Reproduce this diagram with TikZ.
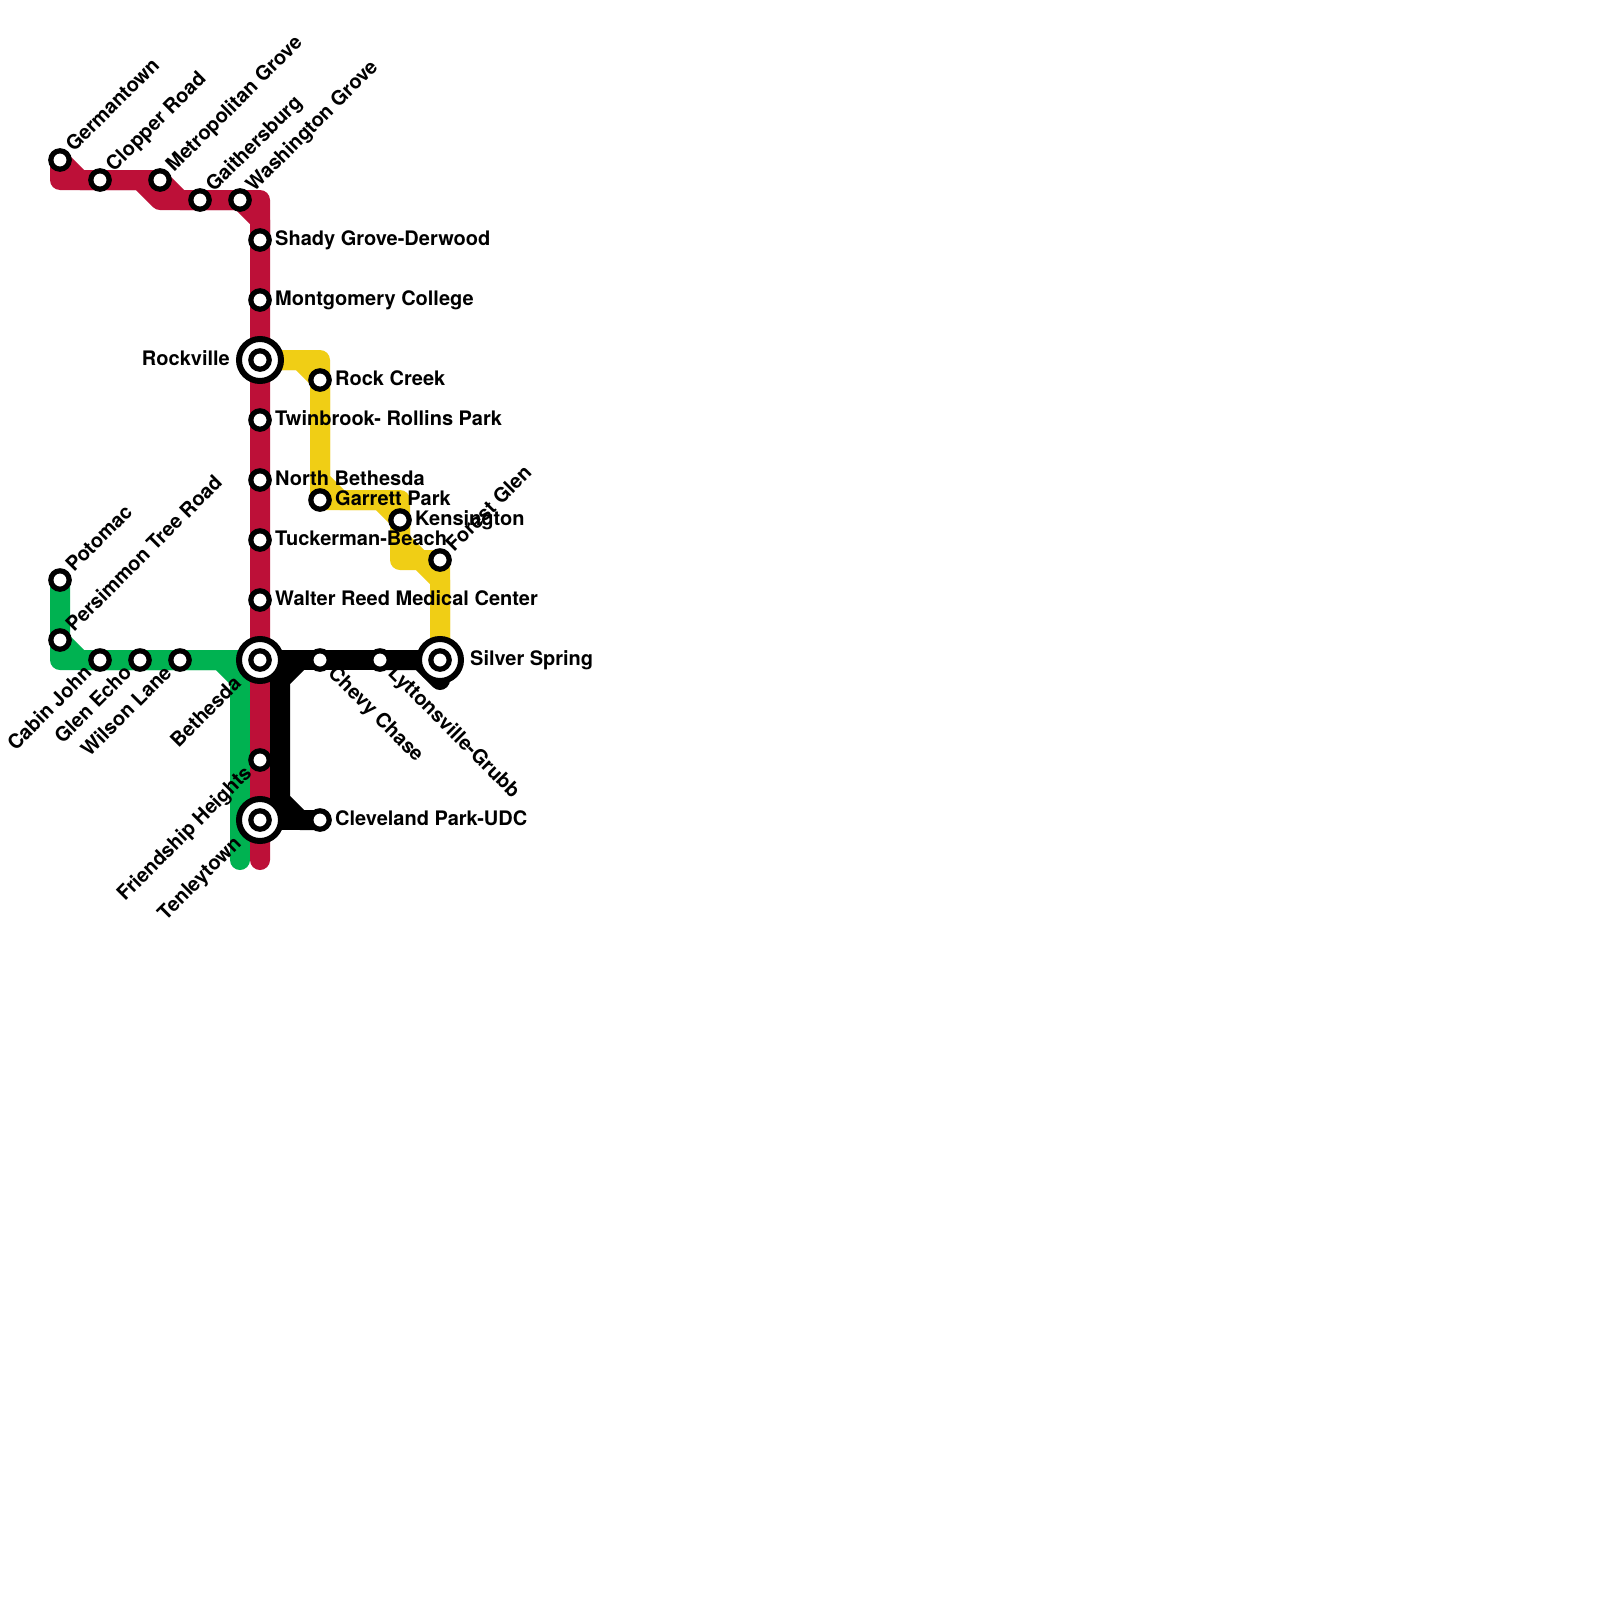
\documentclass[tikz,border=0pt]{standalone}
\usepackage{fontspec}
\setmainfont{TeX Gyre Heros}
\usetikzlibrary{backgrounds}
\definecolor{redline}{HTML}{BD1038}
\definecolor{greenline}{HTML}{00B251}
\definecolor{yellowline}{HTML}{F0CE15}
\tikzset{
  stn/.style={circle,draw=black,line width=5.2pt,fill=white,outer sep=0pt,minimum size=18.4pt,inner sep=0pt},
  xchg/.style={circle,draw=black,line width=6pt,fill=white,outer sep=0pt,minimum size=42pt,inner sep=0pt},
  metro/.style={line width=20pt,line join=round,line cap=round},
  lbl/.style={font=\bfseries\fontsize{20}{24}\selectfont,text=black,inner sep=0pt},
  lr/.style={lbl,anchor=base west},
  ll/.style={lbl,anchor=base east},
  lup/.style={lbl,anchor=base west,rotate=45},
  ldl/.style={lbl,anchor=base east,rotate=45},
  ldr/.style={lbl,anchor=base west,rotate=-45}
}
\begin{document}
\begin{tikzpicture}[x=1pt,y=-1pt]
\useasboundingbox (0,0) rectangle (1600,1600);
% stations
\node[stn] (germantown) at (60,160) {};
\node[stn] (clopper) at (100,180) {};
\node[stn] (metropolitan) at (160,180) {};
\node[stn] (gaithersburg) at (200,200) {};
\node[stn] (washington) at (240,200) {};
\node[stn] (shady) at (260,240) {};
\node[stn] (montgomery) at (260,300) {};
\node[xchg] (rockville) at (260,360) {};
\node[stn] (rockvillein) at (260,360) {};
\node[stn] (twinbrook) at (260,420) {};
\node[stn] (northb) at (260,480) {};
\node[stn] (tuckerman) at (260,540) {};
\node[stn] (walter) at (260,600) {};
\node[xchg] (bethesda) at (260,660) {};
\node[stn] (bethesdain) at (260,660) {};
\node[stn] (friendship) at (260,760) {};
\node[xchg] (tenley) at (260,820) {};
\node[stn] (tenleyin) at (260,820) {};
\node[stn] (potomac) at (60,580) {};
\node[stn] (persimmon) at (60,640) {};
\node[stn] (cabin) at (100,660) {};
\node[stn] (glen) at (140,660) {};
\node[stn] (wilson) at (180,660) {};
\node[stn] (rockcreek) at (320,380) {};
\node[stn] (garrett) at (320,500) {};
\node[stn] (kensington) at (400,520) {};
\node[stn] (forest) at (440,560) {};
\node[xchg] (silver) at (440,660) {};
\node[stn] (silverin) at (440,660) {};
\node[stn] (chevy) at (320,660) {};
\node[stn] (lytton) at (380,660) {};
\node[stn] (cleveland) at (320,820) {};
% bends and free ends
\coordinate (r1) at (60,180); \coordinate (r2) at (140,180); \coordinate (r3) at (160,200);
\coordinate (r4) at (260,220); \coordinate (r5) at (80,180); \coordinate (r6) at (180,200);
\coordinate (r7) at (260,200); \coordinate (redend) at (260,860);
\coordinate (g1) at (60,660); \coordinate (g2) at (220,660); \coordinate (g3) at (240,680);
\coordinate (g4) at (80,660); \coordinate (greenend) at (240,860);
\coordinate (y1) at (300,360); \coordinate (y2) at (320,360); \coordinate (y3) at (320,480);
\coordinate (y4) at (340,500); \coordinate (y5) at (400,500); \coordinate (y6) at (400,540);
\coordinate (y7) at (420,560); \coordinate (y8) at (380,500); \coordinate (y9) at (400,560);
\coordinate (y10) at (440,580);
\coordinate (k1) at (300,660); \coordinate (k2) at (280,680); \coordinate (k3) at (280,800);
\coordinate (k4) at (300,820); \coordinate (k5) at (420,660); \coordinate (k6) at (440,680);
% lines
\begin{scope}[on background layer]
\fill[white] (0,0) rectangle (1600,1600);
\draw[metro,greenline] (potomac.center) -- (persimmon.center) -- (g1) -- (cabin.center) -- (glen.center) -- (wilson.center) -- (g2) -- (g3) -- (greenend);
\draw[metro,greenline] (persimmon.center) -- (g4) -- (bethesda.center);
\draw[metro,redline] (germantown.center) -- (r1) -- (clopper.center) -- (r2) -- (r3) -- (gaithersburg.center) -- (washington.center) -- (r4) -- (shady.center);
\draw[metro,redline] (germantown.center) -- (r5) -- (metropolitan.center) -- (r6) -- (r7) -- (shady.center) -- (montgomery.center) -- (rockville.center) -- (twinbrook.center) -- (northb.center) -- (tuckerman.center) -- (walter.center) -- (bethesda.center) -- (friendship.center) -- (tenley.center) -- (redend);
\draw[metro,yellowline] (rockville.center) -- (y1) -- (rockcreek.center) -- (garrett.center) -- (y8) -- (kensington.center) -- (y9) -- (y7) -- (y10) -- (silver.center);
\draw[metro,yellowline] (rockville.center) -- (y2) -- (y3) -- (y4) -- (y5) -- (y6) -- (y7) -- (forest.center) -- (silver.center);
\draw[metro,black] (bethesda.center) -- (chevy.center) -- (lytton.center) -- (silver.center);
\draw[metro,black] (lytton.center) -- (k5) -- (k6);
\draw[metro,black] (bethesda.center) -- (k1) -- (k2) -- (k3) -- (k4) -- (cleveland.center);
\draw[metro,black] (tenley.center) -- (cleveland.center);
\end{scope}
% labels
\node[lup] (tgermantown) at (74.1,152.9) {Germantown};
\node[lup] (tclopper) at (114.1,172.9) {Clopper Road};
\node[lup] (tmetropolitan) at (174.1,172.9) {Metropolitan Grove};
\node[lup] (tgaithersburg) at (214.1,192.9) {Gaithersburg};
\node[lup] (twashington) at (254.1,192.9) {Washington Grove};
\node[lup] (tpotomac) at (74.1,572.9) {Potomac};
\node[lup] (tpersimmon) at (74.1,632.9) {Persimmon Tree Road};
\node[lup] (tforest) at (454.1,552.9) {Forest Glen};
\node[lr] (tshady) at (275,245) {Shady Grove-Derwood};
\node[lr] (tmontgomery) at (275,305) {Montgomery College};
\node[ll] (trockville) at (230,365) {Rockville};
\node[lr] (trockcreek) at (335,385) {Rock Creek};
\node[lr] (ttwinbrook) at (275,425) {Twinbrook- Rollins Park};
\node[lr] (tnorthb) at (275,485) {North Bethesda};
\node[lr] (tgarrett) at (335,505) {Garrett Park};
\node[lr] (tkensington) at (415,525) {Kensington};
\node[lr] (ttuckerman) at (275,545) {Tuckerman-Beach};
\node[lr] (twalter) at (275,605) {Walter Reed Medical Center};
\node[lr] (tsilver) at (470,665) {Silver Spring};
\node[lr] (tcleveland) at (335,825) {Cleveland Park-UDC};
\node[ldl] (tcabin) at (92.9,674.1) {Cabin John};
\node[ldl] (tglen) at (132.9,674.1) {Glen Echo};
\node[ldl] (twilson) at (172.9,674.1) {Wilson Lane};
\node[ldl] (tbethesda) at (242.3,684.7) {Bethesda};
\node[ldl] (tfriendship) at (252.9,774.1) {Friendship Heights};
\node[ldl] (ttenley) at (242.3,844.7) {Tenleytown};
\node[ldr] (tchevy) at (327.1,674.1) {Chevy Chase};
\node[ldr] (tlytton) at (387.1,674.1) {Lyttonsville-Grubb};
\end{tikzpicture}
\end{document}
